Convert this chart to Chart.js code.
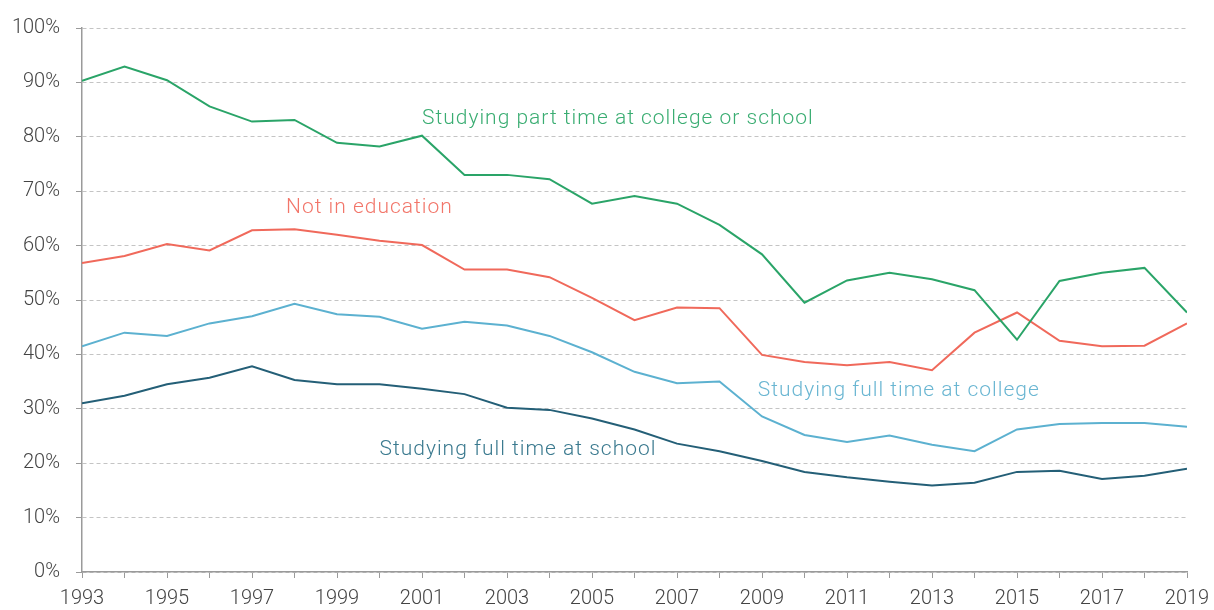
<!DOCTYPE html>
<html>
<head>
<meta charset="utf-8">
<script src="https://cdn.jsdelivr.net/npm/chart.js@4/dist/chart.umd.min.js"></script>
<style>
html,body{margin:0;padding:0;background:#fff;}
#wrap{width:1214px;height:610px;position:relative;}
</style>
</head>
<body>
<div id="wrap"><canvas id="c" width="1214" height="610"></canvas></div>
<script>
const years = [1993,1994,1995,1996,1997,1998,1999,2000,2001,2002,2003,2004,2005,2006,2007,2008,2009,2010,2011,2012,2013,2014,2015,2016,2017,2018,2019];
const partTime = [90.3,92.9,90.4,85.6,82.8,83.1,78.9,78.2,80.2,73.0,73.0,72.2,67.7,69.1,67.7,63.8,58.4,49.5,53.6,55.0,53.8,51.8,42.7,53.5,55.0,55.9,47.7];
const notInEducation = [56.8,58.1,60.3,59.1,62.8,63.0,62.0,60.9,60.1,55.6,55.6,54.2,50.4,46.3,48.6,48.5,39.9,38.6,38.0,38.6,37.1,44.0,47.7,42.5,41.5,41.6,45.7];
const fullTimeCollege = [41.5,44.0,43.4,45.7,47.0,49.3,47.4,46.9,44.7,46.0,45.3,43.4,40.4,36.8,34.7,35.0,28.6,25.2,23.9,25.1,23.4,22.2,26.2,27.2,27.4,27.4,26.7];
const fullTimeSchool = [31.0,32.4,34.5,35.7,37.8,35.3,34.5,34.5,33.7,32.7,30.2,29.8,28.2,26.2,23.6,22.2,20.4,18.4,17.4,16.6,15.9,16.4,18.4,18.6,17.1,17.7,19.0];
const seriesNames = ['Studying part time at college or school','Not in education','Studying full time at college','Studying full time at school'];
const labelX = [2001.0, 1997.8, 2008.9, 2000.0];
const labelY = [83.3, 67.0, 33.4, 22.4];
const yTicks = [0,10,20,30,40,50,60,70,80,90,100];

const lineColors = ['#2aa468','#f0695b','#5cb1d0','#245f77'];
const textColors = ['#3aad72','#f2766a','#6ab6d2','#3b7a8f'];
const seriesValues = [partTime, notInEducation, fullTimeCollege, fullTimeSchool];

const labelPlugin = {
  id: 'seriesLabels',
  afterDatasetsDraw(chart) {
    const ctx = chart.ctx;
    const xs = chart.scales.x, ys = chart.scales.y;
    ctx.save();
    ctx.font = '300 21px Roboto';
    ctx.letterSpacing = '1px';
    ctx.textBaseline = 'middle';
    ctx.textAlign = 'left';
    seriesNames.forEach((n, i) => {
      ctx.fillStyle = textColors[i];
      ctx.fillText(n, xs.getPixelForValue(labelX[i]), ys.getPixelForValue(labelY[i]));
    });
    ctx.letterSpacing = '0px';
    ctx.restore();
  }
};

new Chart(document.getElementById('c'), {
  type: 'line',
  data: {
    datasets: seriesValues.map((vals, i) => ({
      label: seriesNames[i],
      data: years.map((y, k) => ({x: y, y: vals[k]})),
      borderColor: lineColors[i],
      borderWidth: 2,
      pointRadius: 0,
      tension: 0,
      fill: false
    }))
  },
  options: {
    responsive: false,
    animation: false,
    layout: {padding: {left: 0, right: 27, top: 27, bottom: 0}},
    plugins: {legend: {display: false}, tooltip: {enabled: false}},
    scales: {
      x: {
        type: 'linear',
        min: 1993, max: 2019,
        afterBuildTicks(axis) { axis.ticks = years.map(v => ({value: v})); },
        afterFit(axis) { axis.height = 38; axis.paddingRight = 0; axis.paddingLeft = 0; },
        ticks: {
          autoSkip: false, maxRotation: 0,
          color: '#444',
          font: {family: 'Roboto', size: 20, weight: 300},
          padding: 9,
          callback: (v) => (v % 2 === 1 ? String(v) : '')
        },
        grid: {drawOnChartArea: false, drawTicks: true, tickLength: 6, color: '#9a9a9a', lineWidth: 1},
        border: {display: true, color: '#9a9a9a', width: 1.5}
      },
      y: {
        min: 0, max: 100,
        afterBuildTicks(axis) { axis.ticks = yTicks.map(v => ({value: v})); },
        afterFit(axis) { axis.width = 82; },
        ticks: {
          color: '#444',
          font: {family: 'Roboto', size: 20, weight: 300},
          padding: 16,
          callback: (v) => v + '%'
        },
        grid: {drawOnChartArea: true, drawTicks: true, tickLength: 6, color: '#c4c4c4', lineWidth: 1, tickColor: '#9a9a9a'},
        border: {display: true, color: '#9a9a9a', width: 1.5, dash: [4, 3]}
      }
    }
  },
  plugins: [labelPlugin]
});
</script>
</body>
</html>
